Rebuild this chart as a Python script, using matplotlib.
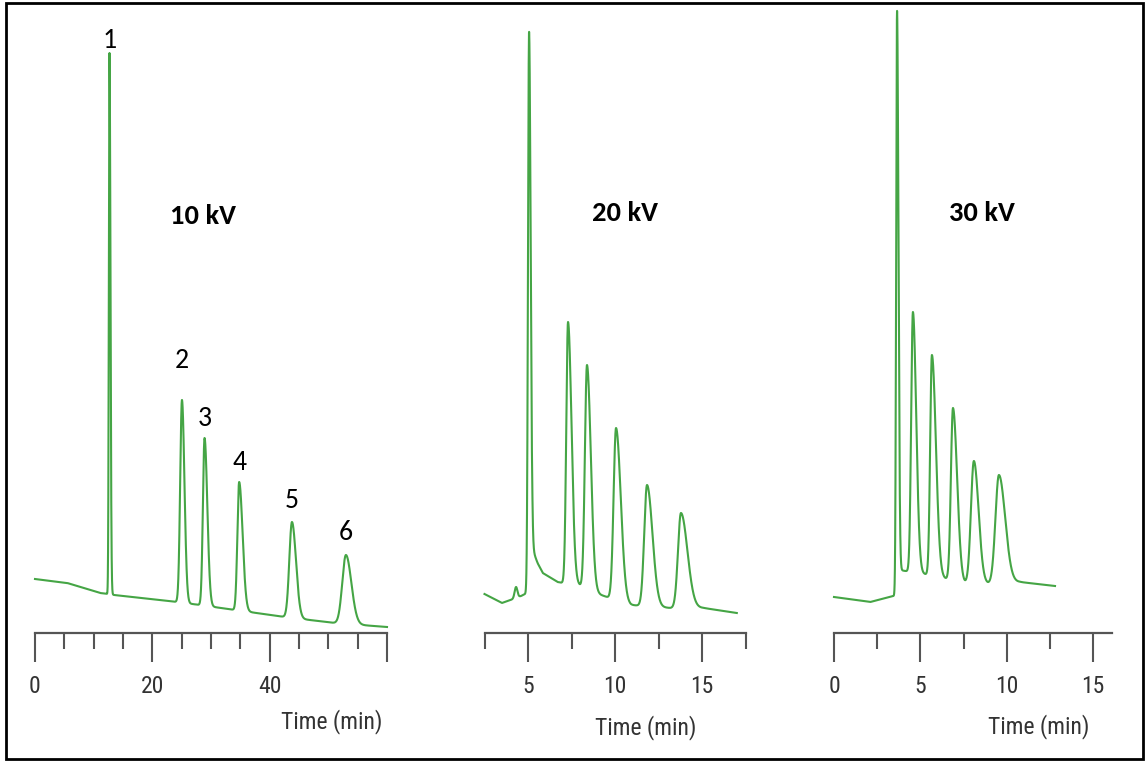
import numpy as np
import matplotlib
matplotlib.use("Agg")
import matplotlib.pyplot as plt
from matplotlib import font_manager
from matplotlib.patches import Rectangle
from matplotlib.ticker import FixedLocator

W, H, DPI = 1146, 762, 100

# ---- 10 kV run -------------------------------------------------------------
base10_t = [0.0, 5.5, 11.1, 12.4, 13.5, 24.2, 28.1, 34.1, 42.6, 51.1, 60.0]
base10_h = [54, 50, 40, 39, 38, 31, 28, 23, 16, 10, 6]
peak10_t = [12.7, 25.05, 28.9, 34.8, 43.8, 53.0]
peak10_h = [580, 233, 195, 151, 111, 78]
peak10_wl = [0.11, 0.30, 0.28, 0.30, 0.45, 0.62]
peak10_wr = [0.16, 0.42, 0.47, 0.58, 0.68, 0.92]
peak_names = ["1", "2", "3", "4", "5", "6"]

# ---- 20 kV run -------------------------------------------------------------
base20_t = [2.5, 3.5, 4.0, 4.6, 4.95, 5.25, 5.55, 5.85, 6.7, 7.0, 7.9,
            9.2, 10.9, 13.2, 15.1, 17.0]
base20_h = [39, 30, 33, 37, 40, 84, 70, 60, 51, 50, 48, 38, 28, 25, 25, 20]
peak20_t = [4.31, 5.06, 7.3, 8.39, 10.06, 11.84, 13.79]
peak20_h = [46, 601, 311, 268, 205, 148, 120]
peak20_wl = [0.08, 0.06, 0.10, 0.12, 0.14, 0.16, 0.17]
peak20_wr = [0.08, 0.09, 0.20, 0.22, 0.27, 0.31, 0.37]

# ---- 30 kV run -------------------------------------------------------------
base30_t = [0.0, 2.1, 3.45, 3.62, 3.8, 4.13, 5.21, 6.3, 7.53, 8.92, 10.77, 12.8]
base30_h = [36, 31, 37, 38, 63, 62, 59, 55, 49, 49, 51, 47]
peak30_t = [3.65, 4.57, 5.67, 6.89, 8.1, 9.55]
peak30_h = [622, 321, 278, 225, 172, 158]
peak30_wl = [0.05, 0.10, 0.10, 0.12, 0.17, 0.20]
peak30_wr = [0.08, 0.19, 0.23, 0.24, 0.27, 0.36]

run_labels = ["10 kV", "20 kV", "30 kV"]
axis_title = "Time (min)"


def pick_font(candidates):
    names = {f.name for f in font_manager.fontManager.ttflist}
    for c in candidates:
        if c in names:
            return c
    return "DejaVu Sans"


tick_font = pick_font(["Liberation Sans Narrow", "Roboto Condensed",
                       "Liberation Sans", "DejaVu Sans"])
note_font = pick_font(["Carlito", "Lato", "Open Sans", "DejaVu Sans"])


def signal(t, bt, bh, pt, ph, wl, wr):
    base = np.interp(t, bt, bh)
    y = base.copy()
    for tp, hp, a, b in zip(pt, ph, wl, wr):
        amp = hp - np.interp(tp, bt, bh)
        s = np.where(t < tp, a, b)
        y += amp * np.exp(-0.5 * ((t - tp) / s) ** 2)
    return y


fig = plt.figure(figsize=(W / DPI, H / DPI), dpi=DPI)
fig.patch.set_facecolor("white")


def px_axes(x0, x1, y0, y1):
    return fig.add_axes([x0 / W, 1 - y1 / H, (x1 - x0) / W, (y1 - y0) / H])


AXIS_Y = 633
LINE = "#45a545"
AX_COL = "#555555"
TXT_COL = "#333333"


def style_axis(ax, xlim, majors, major_labels, minors):
    ax.set_xlim(*xlim)
    ax.set_ylim(0, AXIS_Y)
    for s in ("left", "right", "top"):
        ax.spines[s].set_visible(False)
    ax.spines["bottom"].set_color(AX_COL)
    ax.spines["bottom"].set_linewidth(1.6)
    ax.set_yticks([])
    ax.xaxis.set_major_locator(FixedLocator(majors))
    ax.set_xticklabels(major_labels)
    ax.xaxis.set_minor_locator(FixedLocator(minors))
    ax.tick_params(axis="x", which="major", direction="out", length=21,
                   width=1.5, color=AX_COL, pad=9, labelsize=17,
                   labelcolor=TXT_COL)
    ax.tick_params(axis="x", which="minor", direction="out", length=11.5,
                   width=1.5, color=AX_COL)
    for lab in ax.get_xticklabels():
        lab.set_fontfamily(tick_font)
    ax.patch.set_alpha(0)


# 10 kV panel
ax1 = px_axes(35, 387, 0, AXIS_Y)
t1 = np.linspace(0, 60, 12000)
ax1.plot(t1, signal(t1, base10_t, base10_h, peak10_t, peak10_h,
                    peak10_wl, peak10_wr), color=LINE, lw=1.5, clip_on=False)
style_axis(ax1, (0, 60), [0, 20, 40, 60], ["0", "20", "40", ""],
           [5, 10, 15, 25, 30, 35, 45, 50, 55])
label_lift = [5, 32, 12, 12, 14, 15]
for name, tp, hp, dy in zip(peak_names, peak10_t, peak10_h, label_lift):
    ax1.text(tp, hp + dy, name, ha="center", va="baseline", fontsize=20,
             family=note_font, color="black")

# 20 kV panel
ax2 = px_axes(484.5, 745.5, 0, AXIS_Y)
t2 = np.linspace(2.5, 17.0, 12000)
ax2.plot(t2, signal(t2, base20_t, base20_h, peak20_t, peak20_h,
                    peak20_wl, peak20_wr), color=LINE, lw=1.5, clip_on=False)
style_axis(ax2, (2.5, 17.5), [5, 10, 15], ["5", "10", "15"],
           [2.5, 7.5, 12.5, 17.5])

# 30 kV panel
ax3 = px_axes(834, 1112, 0, AXIS_Y)
t3 = np.linspace(0, 12.8, 12000)
ax3.plot(t3, signal(t3, base30_t, base30_h, peak30_t, peak30_h,
                    peak30_wl, peak30_wr), color=LINE, lw=1.5, clip_on=False)
style_axis(ax3, (0, 16.1), [0, 5, 10, 15], ["0", "5", "10", "15"],
           [2.5, 7.5, 12.5])


def fig_text(x, y, s, **kw):
    fig.text(x / W, 1 - y / H, s, **kw)


for (x, y), s in zip([(203, 216), (625, 213), (982, 213)], run_labels):
    fig_text(x, y, s, ha="center", va="center", fontsize=20.5,
             fontweight="bold", family=note_font, color="black")

for x, y in [(332, 722), (646, 728), (1039, 727)]:
    fig_text(x, y, axis_title, ha="center", va="center", fontsize=17,
             family=tick_font, color=TXT_COL)

fig.patches.append(Rectangle((6 / W, 3 / H), 1137 / W, 756 / H,
                             transform=fig.transFigure, fill=False,
                             edgecolor="black", linewidth=2.0))

fig.savefig("out.png", dpi=DPI, facecolor="white")
